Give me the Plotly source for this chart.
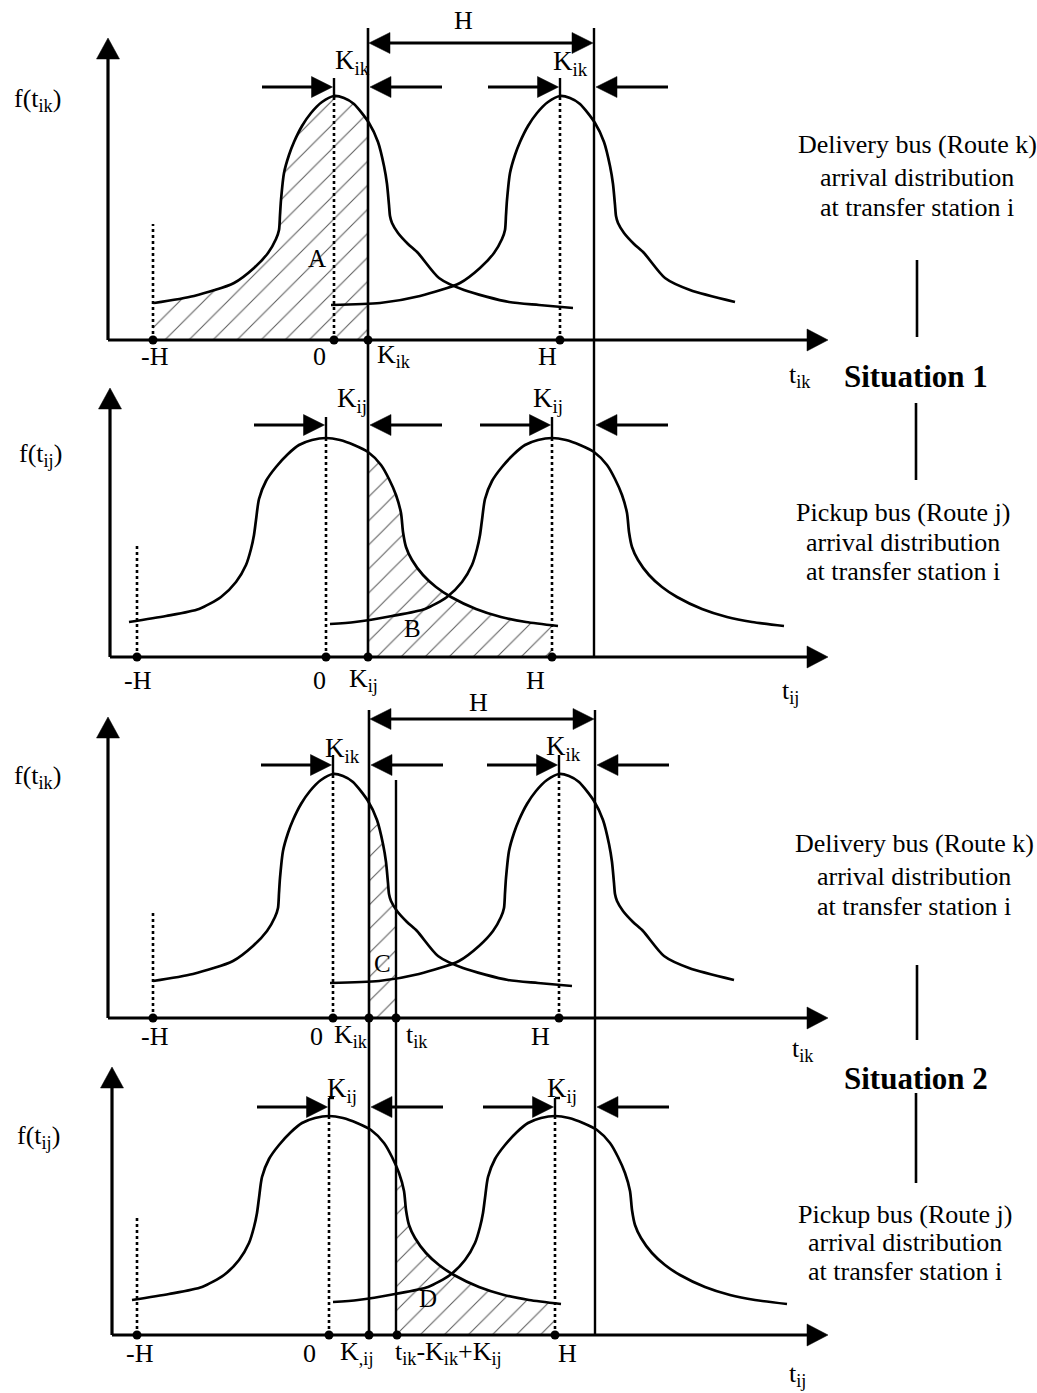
import numpy as np
import plotly.graph_objects as go

W, HT = 1037, 1393
SERIF = "Liberation Serif, 'Times New Roman', serif"
INK = "black"
HATCH = "#5a5a5a"

# ------------------------------------------------------------------
# Arrival-time densities, sampled around the scheduled arrival (t = 0)
# ------------------------------------------------------------------
# delivery bus, route k
DELIV_T = [-229, -180, -140, -100, -80, -66, -58, -55, -54, -53, -50, -45, -40, -32, -23, -12, 0,
           10, 20, 35, 44, 50, 53, 55, 56, 58, 64, 74, 84, 105, 130, 175, 205, 239]
DELIV_F = [35, 37, 44, 57, 72, 87, 101, 110, 125, 140, 167, 185, 198, 214, 227, 238, 244,
           242, 236, 217, 198, 174, 156, 135, 124, 117, 107, 96, 87, 62, 50, 38, 35, 32]
# pickup bus, route j
PICK_T = [-222, -197, -160, -127, -105, -90, -80, -75, -72, -70, -67, -60, -50, -38, -27, -14, 0,
          14, 28, 42, 55, 63, 70, 75, 77, 80, 86, 97, 110, 125, 150, 175, 200, 232]
PICK_F = [33, 35, 41, 48, 60, 75, 92, 108, 122, 137, 158, 176, 190, 203, 212, 217, 219,
          217, 212, 205, 192, 178, 162, 144, 125, 110, 97, 82, 70, 60, 48, 40, 35, 31]

# headway H between two successive buses of one route
HEADWAY = 226

# marked instants on each time axis and their labels
S1K_TICKS = [-181, 0, 34, 226]
S1K_LABELS = ["-H", "0", "K<sub>ik</sub>", "H"]
S1J_TICKS = [-189, 0, 42, 226]
S1J_LABELS = ["-H", "0", "K<sub>ij</sub>", "H"]
S2K_TICKS = [-180, 0, 36, 63, 226]
S2K_LABELS = ["-H", "0", "K<sub>ik</sub>", "t<sub>ik</sub>", "H"]
S2J_TICKS = [-192, 0, 40, 68, 226]
S2J_LABELS = ["-H", "0", "K<sub>,ij</sub>", "t<sub>ik</sub>-K<sub>ik</sub>+K<sub>ij</sub>", "H"]

# hatched areas: index of the first and last instant bounding each one
AREA_NAMES = ["A", "B", "C", "D"]
AREA_BOUNDS = [(0, 2), (2, 3), (2, 3), (3, 4)]

DESC_K = ["Delivery bus (Route k)", "arrival distribution", "at transfer station i"]
DESC_J = ["Pickup bus (Route j)", "arrival distribution", "at transfer station i"]

# ------------------------------------------------------------------
# page layout of the four panels (pixel positions on the page)
# ------------------------------------------------------------------
PANELS = [
    dict(t=DELIV_T, f=DELIV_F, ticks=S1K_TICKS, labels=S1K_LABELS, left_from=-180, right_to=175,
         origin=(334, 340), yaxis_px=108, ytip_px=38, row_px=87, tick_top_px=78, negh_top_px=224,
         label_dx=[2, -15, 26, -13], label_py=356,
         ylab="f(t<sub>ik</sub>)", ylab_px=(37, 100), xlab="t<sub>ik</sub>", xlab_px=(800, 376),
         klab="K<sub>ik</sub>", klab_px=[(352, 62), (570, 63)], area_px=(317, 258),
         guides=dict(top_px=28, bottom_px=657, dim_px=43, dim_lab_px=(463, 20))),
    dict(t=PICK_T, f=PICK_F, ticks=S1J_TICKS, labels=S1J_LABELS, left_from=-197, right_to=240,
         origin=(326, 657), yaxis_px=110, ytip_px=388, row_px=425, tick_top_px=417, negh_top_px=545,
         label_dx=[1, -7, -5, -17], label_py=680,
         ylab="f(t<sub>ij</sub>)", ylab_px=(40, 455), xlab="t<sub>ij</sub>", xlab_px=(790, 692),
         klab="K<sub>ij</sub>", klab_px=[(352, 400), (548, 400)], area_px=(412, 628)),
    dict(t=DELIV_T, f=DELIV_F, ticks=S2K_TICKS, labels=S2K_LABELS, left_from=-180, right_to=175,
         origin=(333, 1018), yaxis_px=108, ytip_px=717, row_px=765, tick_top_px=755, negh_top_px=913,
         label_dx=[2, -17, -18, 21, -19], label_py=1036,
         ylab="f(t<sub>ik</sub>)", ylab_px=(37, 777), xlab="t<sub>ik</sub>", xlab_px=(803, 1050),
         klab="K<sub>ik</sub>", klab_px=[(342, 750), (563, 748)], area_px=(382, 963),
         guides=dict(top_px=710, bottom_px=1335, dim_px=719, dim_lab_px=(478, 702),
                     arrival_top_px=780)),
    dict(t=PICK_T, f=PICK_F, ticks=S2J_TICKS, labels=S2J_LABELS, left_from=-197, right_to=240,
         origin=(329, 1335), yaxis_px=112, ytip_px=1067, row_px=1107, tick_top_px=1098,
         negh_top_px=1217, label_dx=[3, -20, -13, 51, 12], label_py=1353,
         ylab="f(t<sub>ij</sub>)", ylab_px=(38, 1137), xlab="t<sub>ij</sub>", xlab_px=(797, 1375),
         klab="K<sub>ij</sub>", klab_px=[(342, 1090), (562, 1090)], area_px=(428, 1298),
         bracket=True),
]
XTIP_PX = 828
ARROW_LEN = 72
LABEL_SIZE = 26

fig = go.Figure()
shapes, notes = [], []


def refs(i):
    return ("x", "y") if i == 0 else (f"x{i + 1}", f"y{i + 1}")


def seg(i, x0, y0, x1, y1, width=2.6, dash="solid"):
    xr, yr = refs(i)
    shapes.append(dict(type="line", xref=xr, yref=yr, x0=x0, y0=y0, x1=x1, y1=y1,
                       line=dict(color=INK, width=width, dash=dash)))


def head(i, x, y, d, length=21, half=10.5):
    xr, yr = refs(i)
    if d == "right":
        pts = [(x, y), (x - length, y + half), (x - length, y - half)]
    elif d == "left":
        pts = [(x, y), (x + length, y + half), (x + length, y - half)]
    else:
        pts = [(x, y), (x - half, y - length), (x + half, y - length)]
    path = "M " + " L ".join(f"{a:.2f},{b:.2f}" for a, b in pts) + " Z"
    shapes.append(dict(type="path", xref=xr, yref=yr, path=path, fillcolor=INK,
                       line=dict(color=INK, width=0.5)))


def arrow(i, tail, tip, y):
    d = "right" if tip > tail else "left"
    seg(i, tail, y, tip - 18 if d == "right" else tip + 18, y, width=2.8)
    head(i, tip, y, d)


def note(xr, yr, x, y, s, size=LABEL_SIZE, bold=False, xanchor="center"):
    if bold:
        s = f"<b>{s}</b>"
    notes.append(dict(xref=xr, yref=yr, x=x, y=y, text=s, showarrow=False,
                      xanchor=xanchor, yanchor="middle",
                      font=dict(family=SERIF, size=size, color=INK)))


def page_note(px, py, s, size=LABEL_SIZE, bold=False):
    note("paper", "paper", px / W, 1 - py / HT, s, size=size, bold=bold)


for i, p in enumerate(PANELS):
    ox, oy = p["origin"]
    xr, yr = refs(i)
    T = np.array(p["t"], dtype=float)
    F = np.array(p["f"], dtype=float)
    ticks = p["ticks"]
    neg_h, K = ticks[0], ticks[2]
    H = HEADWAY
    peak = float(np.interp(0, T, F))

    def tx(px, ox=ox):
        return px - ox

    def hy(py, oy=oy):
        return oy - py

    # hatched probability area under the first density
    a, b = (ticks[j] for j in AREA_BOUNDS[i])
    inside = (T > a) & (T < b)
    xs = [a, a] + list(T[inside]) + [b, b]
    ys = [0, float(np.interp(a, T, F))] + list(F[inside]) + [float(np.interp(b, T, F)), 0]
    fig.add_trace(go.Scatter(
        x=xs, y=ys, xaxis=xr, yaxis=yr, mode="none", fill="toself",
        fillcolor="rgba(0,0,0,0)",
        fillpattern=dict(shape="/", size=17, solidity=0.06, fgcolor=HATCH,
                         bgcolor="rgba(0,0,0,0)", fgopacity=1),
        hoverinfo="skip", showlegend=False))

    # two successive arrival densities, one headway apart
    left = T >= p["left_from"]
    right = T <= p["right_to"]
    for xx, yy in ((T[left], F[left]), (T[right] + H, F[right])):
        fig.add_trace(go.Scatter(
            x=xx, y=yy, xaxis=xr, yaxis=yr, mode="lines",
            line=dict(color=INK, width=2.7, shape="spline", smoothing=0.7),
            hoverinfo="skip", showlegend=False))

    # marked instants on the time axis
    fig.add_trace(go.Scatter(
        x=ticks, y=[0] * len(ticks), xaxis=xr, yaxis=yr, mode="markers",
        marker=dict(symbol="circle", size=9, color=INK),
        hoverinfo="skip", showlegend=False))

    # coordinate axes with arrow heads
    y_ax = tx(p["yaxis_px"])
    seg(i, y_ax, 0, tx(XTIP_PX) - 19, 0, width=3.2)
    head(i, tx(XTIP_PX), 0, "right", length=21, half=11)
    seg(i, y_ax, 0, y_ax, hy(p["ytip_px"]) - 18, width=3.2)
    head(i, y_ax, hy(p["ytip_px"]), "up", length=21, half=11.5)

    # dotted verticals at -H, 0 and H
    seg(i, neg_h, 0, neg_h, hy(p["negh_top_px"]), width=2.6, dash="dot")
    seg(i, 0, 0, 0, peak, width=2.6, dash="dot")
    seg(i, H, 0, H, peak, width=2.6, dash="dot")

    # markers of the scheduled arrivals and the slack K
    row = hy(p["row_px"])
    top = hy(p["tick_top_px"])
    for c in (0, H):
        seg(i, c, peak, c, top, width=2.4)
        if p.get("bracket"):
            seg(i, c, top, c + 5, top, width=2.4)
    arrow(i, -ARROW_LEN, -1.5, row)
    arrow(i, K + 2 + ARROW_LEN, K + 2, row)
    arrow(i, H - ARROW_LEN, H - 1.5, row)
    arrow(i, K + H + 2 + ARROW_LEN, K + H + 2, row)

    # solid guides at K and K + H (continue into the panel below)
    g = p.get("guides")
    if g:
        g_top, g_bot = hy(g["top_px"]), hy(g["bottom_px"])
        seg(i, K, g_top, K, g_bot, width=2.6)
        seg(i, K + H, g_top, K + H, g_bot, width=2.4)
        dim = hy(g["dim_px"])
        seg(i, K + 18, dim, K + H - 18, dim, width=2.8)
        head(i, K + 1, dim, "left")
        head(i, K + H - 1, dim, "right")
        page_note(*g["dim_lab_px"], "H")
        if "arrival_top_px" in g:
            tk = ticks[3]
            seg(i, tk, hy(g["arrival_top_px"]), tk, g_bot, width=2.4)

    # tick labels
    for tv, lab, dx in zip(ticks, p["labels"], p["label_dx"]):
        note(xr, yr, tv + dx, hy(p["label_py"]), lab)

    for kp in p["klab_px"]:
        page_note(*kp, p["klab"], size=27)
    page_note(*p["ylab_px"], p["ylab"])
    page_note(*p["xlab_px"], p["xlab"])
    page_note(*p["area_px"], AREA_NAMES[i], size=25)

# descriptions in the right-hand column
for lines, cx, ys in ((DESC_K, 917, (144, 177, 207)), (DESC_J, 903, (512, 543, 572)),
                      (DESC_K, 914, (843, 876, 907)), (DESC_J, 905, (1214, 1242, 1271))):
    for s, cy in zip(lines, ys):
        page_note(cx, cy, s, size=26)

page_note(916, 377, "Situation 1", size=31, bold=True)
page_note(916, 1078, "Situation 2", size=31, bold=True)

for x_px, y0_px, y1_px in ((917, 260, 337), (916, 403, 480), (917, 965, 1040), (916, 1093, 1183)):
    shapes.append(dict(type="line", xref="paper", yref="paper",
                       x0=x_px / W, x1=x_px / W, y0=1 - y0_px / HT, y1=1 - y1_px / HT,
                       line=dict(color=INK, width=2.6)))

axes = {}
for i, p in enumerate(PANELS):
    ox, oy = p["origin"]
    n = "" if i == 0 else str(i + 1)
    xa = dict(domain=[0, 1], range=[-ox, W - ox], visible=False, fixedrange=True)
    ya = dict(domain=[0, 1], range=[oy - HT, oy], visible=False, fixedrange=True)
    if i > 0:
        xa["anchor"] = f"y{n}"
        ya["anchor"] = f"x{n}"
    axes[f"xaxis{n}"] = xa
    axes[f"yaxis{n}"] = ya

fig.update_layout(
    width=W, height=HT, autosize=False,
    margin=dict(l=0, r=0, t=0, b=0),
    paper_bgcolor="white", plot_bgcolor="rgba(0,0,0,0)",
    showlegend=False, shapes=shapes, annotations=notes,
    **axes,
)

fig.write_html("out.html", config={"displayModeBar": False})
